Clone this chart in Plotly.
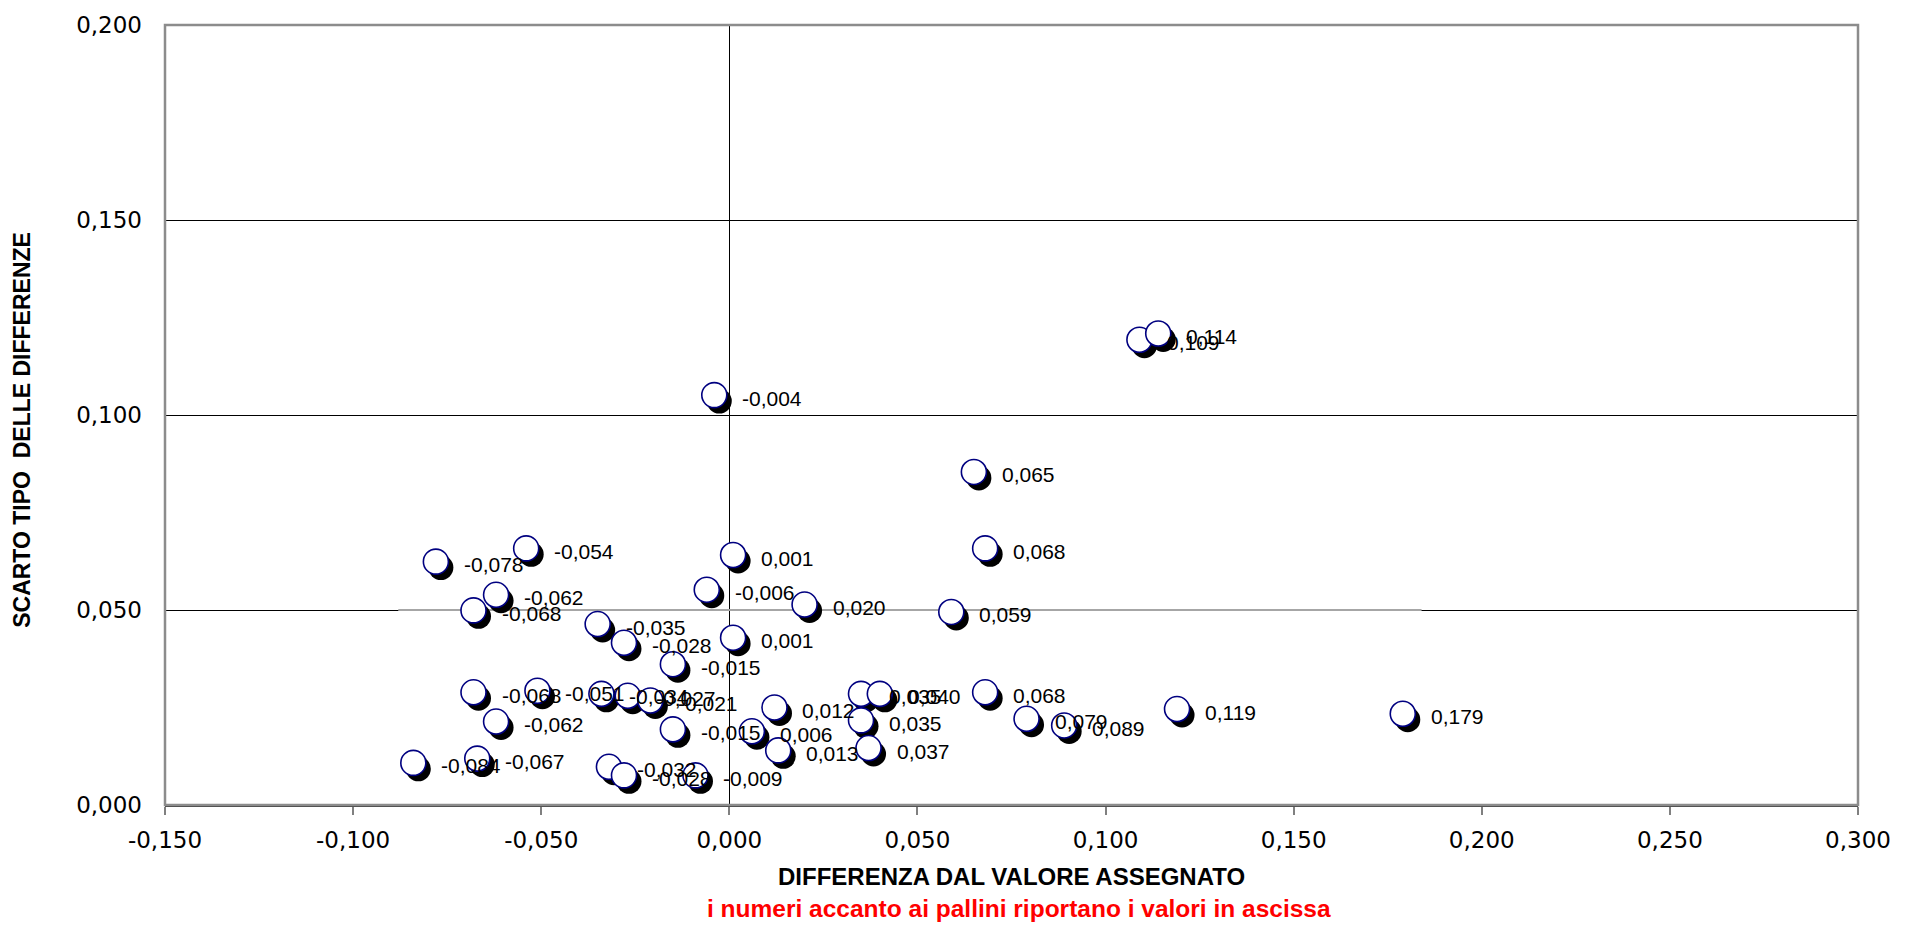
import plotly.graph_objects as go

# Differenza dal valore assegnato (ascissa) e scarto tipo delle differenze (ordinata)
diff_x = [-0.078, -0.054, 0.001, -0.062, -0.068, -0.006, 0.020, -0.035, -0.028, 0.001,
          -0.015, -0.068, -0.051, -0.034, -0.027, -0.021, -0.062, -0.015, 0.006, 0.012,
          0.013, -0.084, -0.067, -0.032, -0.028, -0.009, -0.004, 0.065, 0.068, 0.059,
          0.035, 0.040, 0.035, 0.037, 0.068, 0.079, 0.089, 0.119, 0.179, 0.109,
          0.114]
scarto_y = [0.0624, 0.0658, 0.0641, 0.0539, 0.0499, 0.0552, 0.0514, 0.0464, 0.0416, 0.0429,
            0.0361, 0.0289, 0.0293, 0.0285, 0.0280, 0.0268, 0.0214, 0.0194, 0.0189, 0.0250,
            0.0140, 0.0108, 0.0119, 0.0098, 0.0076, 0.0076, 0.1051, 0.0854, 0.0658, 0.0495,
            0.0285, 0.0285, 0.0217, 0.0146, 0.0289, 0.0221, 0.0204, 0.0246, 0.0234, 0.1193,
            0.1209]

# Linea di riferimento grigia a 0,050
ref_y = 0.05
ref_x = [-0.088, 0.184]

x_tick_vals = [-0.15, -0.10, -0.05, 0.0, 0.05, 0.10, 0.15, 0.20, 0.25, 0.30]
x_tick_text = ["-0,150", "-0,100", "-0,050", "0,000", "0,050", "0,100", "0,150", "0,200", "0,250", "0,300"]
y_tick_vals = [0.0, 0.05, 0.10, 0.15, 0.20]
y_tick_text = ["0,000", "0,050", "0,100", "0,150", "0,200"]

X_RANGE = [-0.15, 0.30]
Y_RANGE = [0.0, 0.20]

W, H = 1914, 925
M_L, M_R, M_T, M_B = 165, 56, 20, 120
plot_w = W - M_L - M_R
plot_h = H - M_T - M_B

# shadow offset in pixels, converted to axis units
SH_DX = 5 * (X_RANGE[1] - X_RANGE[0]) / plot_w
SH_DY = 6 * (Y_RANGE[1] - Y_RANGE[0]) / plot_h

def fmt(v):
    return f"{v:.3f}".replace(".", ",")

fig = go.Figure()

fig.add_trace(go.Scatter(
    x=ref_x, y=[ref_y, ref_y], mode="lines",
    line=dict(color="#a6a6a6", width=2), hoverinfo="skip", showlegend=False))

fig.add_trace(go.Scatter(
    x=[v + SH_DX for v in diff_x], y=[v - SH_DY for v in scarto_y], mode="markers",
    marker=dict(size=25, color="black", line=dict(width=0)),
    hoverinfo="skip", showlegend=False))

fig.add_trace(go.Scatter(
    x=diff_x, y=scarto_y, mode="markers",
    marker=dict(size=25, color="white", line=dict(color="#000080", width=1.6)),
    showlegend=False))

annotations = []
for xv, yv in zip(diff_x, scarto_y):
    annotations.append(dict(
        x=xv, y=yv, xref="x", yref="y", text=fmt(xv), showarrow=False,
        xanchor="left", yanchor="middle", xshift=26, yshift=-3,
        font=dict(family="Liberation Sans, Arial", size=21, color="black")))

annotations += [
    dict(x=0.5, y=0, xref="paper", yref="paper", yanchor="middle", yshift=-71,
         text="<b>DIFFERENZA DAL VALORE ASSEGNATO</b>", showarrow=False,
         font=dict(family="Liberation Sans, Arial", size=24, color="black")),
    dict(x=0.5, y=0, xref="paper", yref="paper", yanchor="middle", xshift=7, yshift=-103,
         text="<b>i numeri accanto ai pallini riportano i valori in ascissa</b>", showarrow=False,
         font=dict(family="Liberation Sans, Arial", size=24.5, color="red")),
    dict(x=0, y=0.481, xref="paper", yref="paper", xanchor="center", yanchor="middle",
         xshift=-143, textangle=-90,
         text="<b>SCARTO TIPO \u00a0DELLE DIFFERENZE</b>", showarrow=False,
         font=dict(family="Liberation Sans, Arial", size=23, color="black")),
]

shapes = [
    dict(type="rect", xref="paper", yref="paper", x0=0, x1=1, y0=0, y1=1,
         line=dict(color="#8c8c8c", width=2.5), layer="above"),
]

fig.update_layout(
    width=W, height=H,
    margin=dict(l=M_L, r=M_R, t=M_T, b=M_B),
    paper_bgcolor="white", plot_bgcolor="white",
    annotations=annotations, shapes=shapes,
    xaxis=dict(range=X_RANGE, tickvals=x_tick_vals, ticktext=x_tick_text,
               showgrid=False, zeroline=True, zerolinecolor="black", zerolinewidth=1,
               showline=True, linecolor="#404040", linewidth=2,
               ticks="outside", ticklen=8, tickcolor="#808080", tickwidth=1.5,
               ticklabelstandoff=5,
               tickfont=dict(family="DejaVu Sans", size=23, color="black")),
    yaxis=dict(range=Y_RANGE, tickvals=y_tick_vals, ticktext=y_tick_text,
               showgrid=True, gridcolor="black", gridwidth=1, zeroline=False,
               showline=False, ticks="", ticklabelstandoff=22,
               tickfont=dict(family="DejaVu Sans", size=23, color="black")),
)

fig.write_html("out.html")
